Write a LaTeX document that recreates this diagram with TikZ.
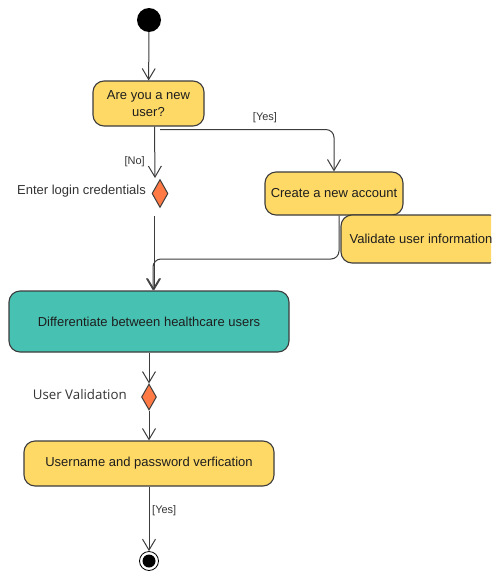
\documentclass[tikz,border=0pt]{standalone}
\usepackage{fontspec}
\setmainfont{Liberation Sans}
\newfontfamily\noteface{Open Sans}
\usetikzlibrary{arrows.meta,shapes.geometric}

\definecolor{actyellow}{HTML}{FFD966}
\definecolor{actteal}{HTML}{47C2B2}
\definecolor{decorange}{HTML}{FF7A45}
\definecolor{edgegray}{HTML}{3C3C3C}
\definecolor{ink}{HTML}{1E1E1E}
\definecolor{notegray}{HTML}{333333}

\begin{document}
\begin{tikzpicture}[x=1pt,y=-1pt,
  action/.style={draw=edgegray, line width=1.1pt, rounded corners=11pt,
    align=center, text=ink, inner sep=0pt,
    font=\fontsize{13}{16.5}\selectfont},
  decision/.style={diamond, draw=edgegray, line width=1pt, fill=decorange,
    inner sep=0pt, minimum width=16pt, minimum height=28pt},
  flow/.style={draw=edgegray, line width=1pt,
    -{Straight Barb[length=11pt,width=13pt,line width=1pt]}},
  guard/.style={text=notegray, inner sep=0pt, font=\fontsize{11}{13}\selectfont},
  note/.style={text=notegray, inner sep=0pt, font=\fontsize{13}{15}\selectfont}]

\clip (0,0) rectangle (491,573);

% initial and final states
\node[circle, fill=black, minimum size=24pt, inner sep=0pt] (start) at (149,20) {};
\node[circle, draw=black, line width=0.8pt, fill=white, minimum size=19pt, inner sep=0pt] (end) at (149,561) {};
\node[circle, fill=black, minimum size=13pt, inner sep=0pt] (endcore) at (end) {};

% actions
\node[action, fill=actyellow, minimum width=111pt, minimum height=45pt]
  (q1) at (148.5,103.5) {Are you a new\\user?};
\node[action, fill=actyellow, minimum width=138pt, minimum height=43pt]
  (create) at (334,193.5) {Create a new account};
\node[action, fill=actyellow, minimum width=160pt, minimum height=48pt]
  (validate) at (421,239) {Validate user information};
\node[action, fill=actteal, minimum width=280pt, minimum height=61pt]
  (diff) at (149,321.5) {Differentiate between healthcare users};
\node[action, fill=actyellow, minimum width=250pt, minimum height=45pt]
  (verify) at (149,463.5) {Username and password verfication};

% decisions
\node[decision] (d1) at (160,193.5) {};
\node[decision, minimum width=15pt, minimum height=26pt] (d2) at (149,397) {};

% decision captions
\node[note, anchor=east] (d1cap) at (146,191) {Enter login credentials};
\node[note, anchor=east, font=\noteface\fontsize{13.3}{15}\selectfont] (d2cap) at (127,395) {User Validation};

% control flow
\draw[flow] (start) -- (q1);
\draw[flow] ([xshift=6pt]q1.south) -- ([xshift=-5pt,yshift=1pt]d1.north);
\node[guard, anchor=east] (nolabel) at (145,162) {[No]};
\draw[flow, rounded corners=8pt] ([xshift=11.5pt,yshift=-3pt]q1.south) -| (create.north);
\node[guard] (yeslabel) at (265,118) {[Yes]};
\draw[flow] ([xshift=-6pt,yshift=-8pt]d1.south) -- ([xshift=5pt]diff.north);
\coordinate (merge) at (153,259);
\draw[flow, rounded corners=8pt] ([xshift=5pt]create.south) |- (merge) -- (merge |- diff.north);
\draw[flow] (diff) -- (d2);
\draw[flow] (d2) -- (verify);
\draw[flow] (verify) -- (end);
\node[guard, anchor=west] (donelabel) at (152,511) {[Yes]};

\end{tikzpicture}
\end{document}
